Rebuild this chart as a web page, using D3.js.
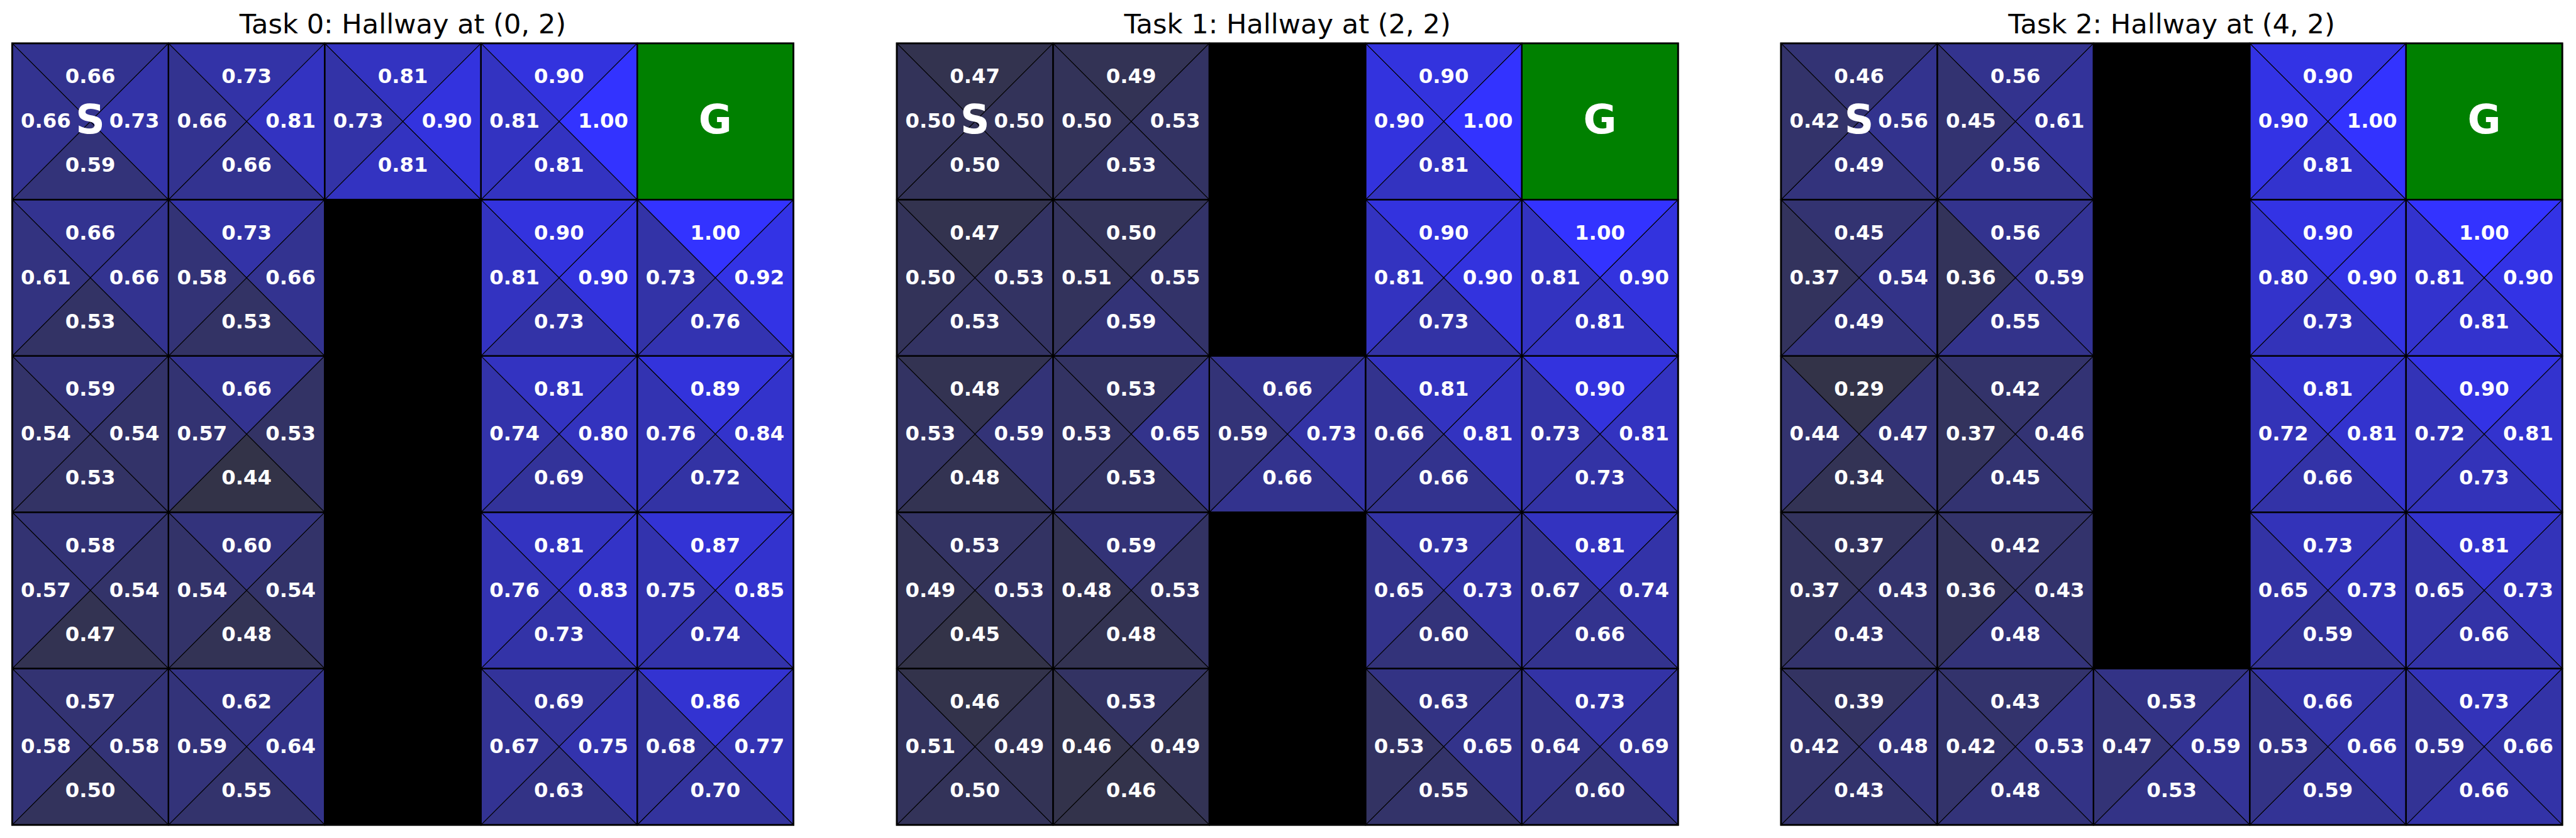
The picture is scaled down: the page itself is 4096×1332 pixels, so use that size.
<!DOCTYPE html>
<html>
<head>
<meta charset="utf-8">
<script src="https://cdn.jsdelivr.net/npm/d3@7"></script>
<style>
  html, body { margin: 0; padding: 0; background: #ffffff; }
  svg { display: block; }
</style>
</head>
<body>
<svg id="chart" width="4096" height="1332"></svg>
<script>
// ---------------- DATA ----------------
const taskTitles = ["Task 0: Hallway at (0, 2)", "Task 1: Hallway at (2, 2)", "Task 2: Hallway at (4, 2)"];
const startCell = [0, 0];
const goalCell = [0, 4];

const walls0 = [[1, 2], [2, 2], [3, 2], [4, 2]];
const walls1 = [[0, 2], [1, 2], [3, 2], [4, 2]];
const walls2 = [[0, 2], [1, 2], [2, 2], [3, 2]];

// Q-values per action, rows top->bottom, cols left->right (null = wall / goal)
const task0Up = [
  [0.66, 0.73, 0.81, 0.90, null],
  [0.66, 0.73, null, 0.90, 1.00],
  [0.59, 0.66, null, 0.81, 0.89],
  [0.58, 0.60, null, 0.81, 0.87],
  [0.57, 0.62, null, 0.69, 0.86]];
const task0Right = [
  [0.73, 0.81, 0.90, 1.00, null],
  [0.66, 0.66, null, 0.90, 0.92],
  [0.54, 0.53, null, 0.80, 0.84],
  [0.54, 0.54, null, 0.83, 0.85],
  [0.58, 0.64, null, 0.75, 0.77]];
const task0Down = [
  [0.59, 0.66, 0.81, 0.81, null],
  [0.53, 0.53, null, 0.73, 0.76],
  [0.53, 0.44, null, 0.69, 0.72],
  [0.47, 0.48, null, 0.73, 0.74],
  [0.50, 0.55, null, 0.63, 0.70]];
const task0Left = [
  [0.66, 0.66, 0.73, 0.81, null],
  [0.61, 0.58, null, 0.81, 0.73],
  [0.54, 0.57, null, 0.74, 0.76],
  [0.57, 0.54, null, 0.76, 0.75],
  [0.58, 0.59, null, 0.67, 0.68]];

const task1Up = [
  [0.47, 0.49, null, 0.90, null],
  [0.47, 0.50, null, 0.90, 1.00],
  [0.48, 0.53, 0.66, 0.81, 0.90],
  [0.53, 0.59, null, 0.73, 0.81],
  [0.46, 0.53, null, 0.63, 0.73]];
const task1Right = [
  [0.50, 0.53, null, 1.00, null],
  [0.53, 0.55, null, 0.90, 0.90],
  [0.59, 0.65, 0.73, 0.81, 0.81],
  [0.53, 0.53, null, 0.73, 0.74],
  [0.49, 0.49, null, 0.65, 0.69]];
const task1Down = [
  [0.50, 0.53, null, 0.81, null],
  [0.53, 0.59, null, 0.73, 0.81],
  [0.48, 0.53, 0.66, 0.66, 0.73],
  [0.45, 0.48, null, 0.60, 0.66],
  [0.50, 0.46, null, 0.55, 0.60]];
const task1Left = [
  [0.50, 0.50, null, 0.90, null],
  [0.50, 0.51, null, 0.81, 0.81],
  [0.53, 0.53, 0.59, 0.66, 0.73],
  [0.49, 0.48, null, 0.65, 0.67],
  [0.51, 0.46, null, 0.53, 0.64]];

const task2Up = [
  [0.46, 0.56, null, 0.90, null],
  [0.45, 0.56, null, 0.90, 1.00],
  [0.29, 0.42, null, 0.81, 0.90],
  [0.37, 0.42, null, 0.73, 0.81],
  [0.39, 0.43, 0.53, 0.66, 0.73]];
const task2Right = [
  [0.56, 0.61, null, 1.00, null],
  [0.54, 0.59, null, 0.90, 0.90],
  [0.47, 0.46, null, 0.81, 0.81],
  [0.43, 0.43, null, 0.73, 0.73],
  [0.48, 0.53, 0.59, 0.66, 0.66]];
const task2Down = [
  [0.49, 0.56, null, 0.81, null],
  [0.49, 0.55, null, 0.73, 0.81],
  [0.34, 0.45, null, 0.66, 0.73],
  [0.43, 0.48, null, 0.59, 0.66],
  [0.43, 0.48, 0.53, 0.59, 0.66]];
const task2Left = [
  [0.42, 0.45, null, 0.90, null],
  [0.37, 0.36, null, 0.80, 0.81],
  [0.44, 0.37, null, 0.72, 0.72],
  [0.37, 0.36, null, 0.65, 0.65],
  [0.42, 0.42, 0.47, 0.53, 0.59]];

const tasks = [
  { title: taskTitles[0], walls: walls0, up: task0Up, right: task0Right, down: task0Down, left: task0Left },
  { title: taskTitles[1], walls: walls1, up: task1Up, right: task1Right, down: task1Down, left: task1Left },
  { title: taskTitles[2], walls: walls2, up: task2Up, right: task2Right, down: task2Down, left: task2Left }
];

// ---------------- LAYOUT ----------------
const S = 0.647;
const panelLeft = [30, 2204, 4377].map(v => v * S);
const panelTop = 106.5 * S;
const panelSize = 1920 * S;
const lowColor = "rgb(51,51,72)";
const highColor = "rgb(51,51,255)";
const wallColor = "#000000";
const goalColor = "#008000";
const labelFont = 50 * S;      // 12pt @300dpi
const titleFont = 66.7 * S;    // 16pt @300dpi
const markFont = 100 * S;      // 24pt @300dpi
const FONT = "'DejaVu Sans', sans-serif";

const svg = d3.select("#chart");
const fmt = d3.format(".2f");
const idx = d3.range(5);

tasks.forEach((task, ti) => {
  const x = d3.scaleBand().domain(idx).range([panelLeft[ti], panelLeft[ti] + panelSize]);
  const y = d3.scaleBand().domain(idx).range([panelTop, panelTop + panelSize]);

  const allVals = [task.up, task.right, task.down, task.left].flat(2).filter(v => v != null);
  const color = d3.scaleLinear()
    .domain([d3.min(allVals), d3.max(allVals)])
    .range([lowColor, highColor])
    .interpolate(d3.interpolateRgb);

  const g = svg.append("g");
  const wallSet = new Set(task.walls.map(d => d[0] + "," + d[1]));

  const cells = [];
  idx.forEach(r => idx.forEach(c => cells.push({ r, c })));

  const triG = g.append("g");
  const labG = g.append("g");

  cells.forEach(({ r, c }) => {
    const x0 = x(c), x1 = x(c) + x.bandwidth();
    const y0 = y(r), y1 = y(r) + y.bandwidth();
    const cx = (x0 + x1) / 2, cy = (y0 + y1) / 2;
    const bw = x.bandwidth(), bh = y.bandwidth();
    const key = r + "," + c;

    if (wallSet.has(key)) {
      triG.append("rect").attr("x", x0).attr("y", y0).attr("width", bw).attr("height", bh)
        .attr("fill", wallColor);
      return;
    }
    if (r === goalCell[0] && c === goalCell[1]) {
      triG.append("rect").attr("x", x0).attr("y", y0).attr("width", bw).attr("height", bh)
        .attr("fill", goalColor);
      labG.append("text").attr("x", cx).attr("y", y0 + 0.48 * bh + 0.3645 * markFont)
        .attr("text-anchor", "middle").attr("font-family", FONT).attr("font-weight", "bold")
        .attr("font-size", markFont).attr("fill", "#ffffff").text("G");
      return;
    }

    const tris = [
      { v: task.up[r][c], pts: [[x0, y0], [x1, y0], [cx, cy]], lx: 0.5, ly: 0.208 },
      { v: task.right[r][c], pts: [[x1, y0], [x1, y1], [cx, cy]], lx: 0.782, ly: 0.494 },
      { v: task.down[r][c], pts: [[x0, y1], [x1, y1], [cx, cy]], lx: 0.5, ly: 0.776 },
      { v: task.left[r][c], pts: [[x0, y0], [x0, y1], [cx, cy]], lx: 0.215, ly: 0.494 }
    ];
    tris.forEach(t => {
      triG.append("polygon")
        .attr("points", t.pts.map(p => p.join(",")).join(" "))
        .attr("fill", color(t.v))
        .attr("stroke", "#000000").attr("stroke-width", 1.1).attr("stroke-linejoin", "miter");
      labG.append("text")
        .attr("x", x0 + t.lx * bw)
        .attr("y", y0 + t.ly * bh + 0.3645 * labelFont)
        .attr("text-anchor", "middle")
        .attr("font-family", FONT).attr("font-weight", "bold")
        .attr("font-size", labelFont).attr("fill", "#ffffff")
        .text(fmt(t.v));
    });
    if (r === startCell[0] && c === startCell[1]) {
      labG.append("text").attr("x", cx).attr("y", y0 + 0.48 * bh + 0.3645 * markFont)
        .attr("text-anchor", "middle").attr("font-family", FONT).attr("font-weight", "bold")
        .attr("font-size", markFont).attr("fill", "#ffffff").text("S");
    }
  });

  // cell borders
  g.append("g").selectAll("rect").data(cells).join("rect")
    .attr("x", d => x(d.c)).attr("y", d => y(d.r))
    .attr("width", x.bandwidth()).attr("height", y.bandwidth())
    .attr("fill", "none").attr("stroke", "#000000").attr("stroke-width", 2.2);

  labG.raise();

  // outer frame
  g.append("rect")
    .attr("x", panelLeft[ti]).attr("y", panelTop)
    .attr("width", panelSize).attr("height", panelSize)
    .attr("fill", "none").attr("stroke", "#000000").attr("stroke-width", 2.8);

  // title
  g.append("text")
    .attr("x", panelLeft[ti] + panelSize / 2)
    .attr("y", 82 * S)
    .attr("text-anchor", "middle")
    .attr("font-family", FONT).attr("font-size", titleFont).attr("fill", "#000000")
    .text(task.title);
});
</script>
</body>
</html>
